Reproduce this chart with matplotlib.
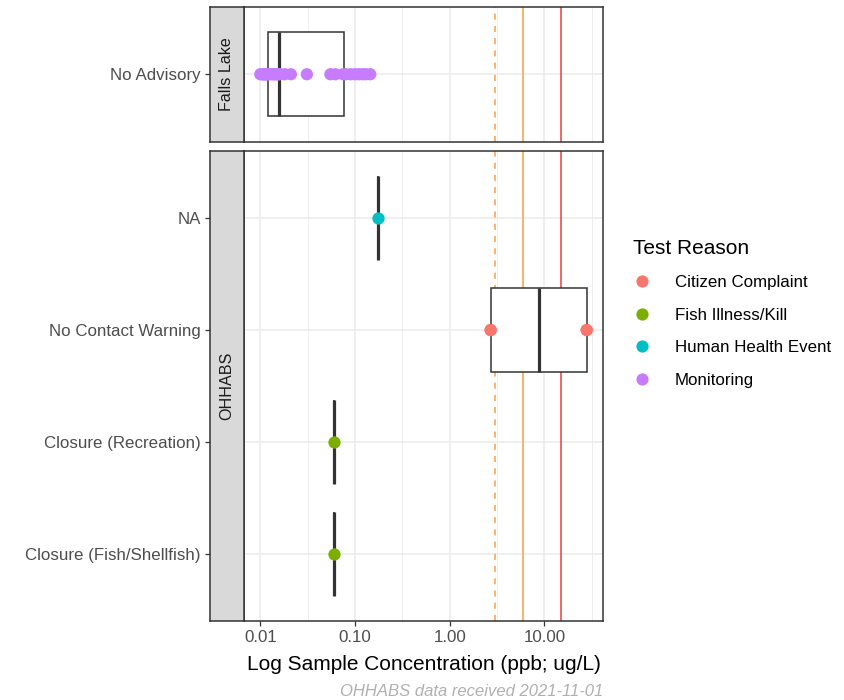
import numpy as np
import matplotlib
matplotlib.use('Agg')
import matplotlib.pyplot as plt
from matplotlib.lines import Line2D

plt.rcParams['font.family'] = ['Liberation Sans', 'DejaVu Sans']

# ---- data ----
reasons = ['Citizen Complaint', 'Fish Illness/Kill', 'Human Health Event', 'Monitoring']
reason_colors = ['#F8766D', '#7CAE00', '#00BFC4', '#C77CFF']

falls_advisory = ['No Advisory']
falls_values = [0.0100, 0.0105, 0.0108, 0.0110, 0.0112, 0.0115, 0.0118, 0.0120,
                0.0130, 0.0135, 0.0140, 0.0145, 0.0150, 0.0155, 0.0160, 0.0180,
                0.0210, 0.0310, 0.0550, 0.0620, 0.0750, 0.0800, 0.0900, 0.1000,
                0.1100, 0.1200, 0.1300, 0.1450]
falls_reason = 'Monitoring'

ohhabs_advisory = ['Closure (Fish/Shellfish)', 'Closure (Recreation)',
                   'No Contact Warning', 'NA']
ohhabs_values = [[0.060], [0.060], [2.71, 2.71, 28.0, 28.0], [0.176]]
ohhabs_reasons = [['Fish Illness/Kill'], ['Fish Illness/Kill'],
                  ['Citizen Complaint'] * 4, ['Human Health Event']]

# guideline lines: (value, colour, style)
guide_values = [3, 6, 15]
guide_colors = ['#F9A047', '#F9A047', '#F03C3C']
guide_styles = ['--', '-', '-']

x_ticks = [0.01, 0.1, 1, 10]
x_ticklabels = ['0.01', '0.10', '1.00', '10.00']
x_minor = [10 ** -1.5, 10 ** -0.5, 10 ** 0.5, 10 ** 1.5]


def log_box_stats(vals):
    # ggplot computes the box on the transformed (log10) scale
    lv = np.log10(np.asarray(vals, dtype=float))
    q1, med, q3 = np.percentile(lv, [25, 50, 75])
    iqr = q3 - q1
    lo = lv[lv >= q1 - 1.5 * iqr].min()
    hi = lv[lv <= q3 + 1.5 * iqr].max()
    return dict(med=10 ** med, q1=10 ** q1, q3=10 ** q3,
                whislo=10 ** lo, whishi=10 ** hi, fliers=[])


# x limits: data range + 5% on the log scale
all_vals = np.log10(np.concatenate([falls_values] + [np.array(v) for v in ohhabs_values]))
span = all_vals.max() - all_vals.min()
xlim = (10 ** (all_vals.min() - 0.05 * span), 10 ** (all_vals.max() + 0.05 * span))

W, H = 845, 700
fig = plt.figure(figsize=(W / 100, H / 100), dpi=100)


def px(x0, y0, x1, y1):
    return [x0 / W, 1 - y1 / H, (x1 - x0) / W, (y1 - y0) / H]


ax_top = fig.add_axes(px(244, 7, 603, 141.5))
ax_bot = fig.add_axes(px(244, 151, 603, 621))
strip_top = fig.add_axes(px(210, 7, 244, 141.5))
strip_bot = fig.add_axes(px(210, 151, 244, 621))

TXT = 12.2

box_kw = dict(widths=0.75, orientation='horizontal', showcaps=False,
              patch_artist=True, manage_ticks=False,
              boxprops=dict(facecolor='white', edgecolor='#333333', linewidth=1.1),
              whiskerprops=dict(color='#333333', linewidth=1.1),
              medianprops=dict(color='#333333', linewidth=2.3))

panels = [
    (ax_top, strip_top, 'Falls Lake', falls_advisory, [falls_values],
     [[falls_reason] * len(falls_values)]),
    (ax_bot, strip_bot, 'OHHABS', ohhabs_advisory, ohhabs_values, ohhabs_reasons),
]

for ax, sax, label, cats, vals, rsn in panels:
    pos = np.arange(1, len(cats) + 1)
    ylim = (0.4, len(cats) + 0.6)
    ax.set_xscale('log')
    ax.set_xlim(*xlim)
    ax.set_ylim(*ylim)

    ax.set_xticks(x_ticks)
    ax.set_xticklabels(x_ticklabels)
    ax.set_xticks(x_minor, minor=True)
    ax.set_xticklabels([], minor=True)
    ax.tick_params(axis='x', which='minor', length=0)
    ax.tick_params(axis='x', which='major', length=3.5, width=0.9,
                   color='#333333', labelcolor='#4D4D4D', labelsize=TXT, pad=3)
    ax.set_yticks(pos)
    ax.tick_params(axis='y', length=0, labelleft=False)

    ax.grid(True, which='major', color='#EBEBEB', linewidth=1.1)
    ax.grid(True, which='minor', axis='x', color='#EBEBEB', linewidth=0.6)
    ax.set_axisbelow(True)
    for s in ax.spines.values():
        s.set_color('#333333')
        s.set_linewidth(1.1)
        s.set_zorder(5)

    for g, c, ls in zip(guide_values, guide_colors, guide_styles):
        ax.axvline(g, color=c, linestyle=ls, linewidth=1.1,
                   dashes=(4, 4) if ls == '--' else (None, None), zorder=1)

    stats = [log_box_stats(v) for v in vals]
    ax.bxp(stats, positions=pos, **box_kw)
    for p, v, r in zip(pos, vals, rsn):
        cols = [reason_colors[reasons.index(k)] for k in r]
        ax.scatter(v, [p] * len(v), s=78, c=cols, linewidths=0, zorder=4)

    # strip on the left carries the category ticks (switched strips)
    sax.set_facecolor('#D9D9D9')
    sax.set_xticks([])
    sax.set_ylim(*ylim)
    sax.set_yticks(pos)
    sax.set_yticklabels(cats)
    sax.tick_params(axis='y', length=3.5, width=0.9, color='#333333',
                    labelcolor='#4D4D4D', labelsize=TXT, pad=3)
    for s in sax.spines.values():
        s.set_color('#333333')
        s.set_linewidth(1.1)
    sax.text(0.5, 0.5, label, rotation=90, ha='center', va='center',
             fontsize=11.6, color='#1A1A1A', transform=sax.transAxes)

ax_top.tick_params(axis='x', labelbottom=False, length=0)

ax_bot.set_xlabel('Log Sample Concentration (ppb; ug/L)', fontsize=15.0,
                  color='black', labelpad=7)

handles = [Line2D([], [], marker='o', linestyle='none', markersize=8.8,
                  markerfacecolor=c, markeredgewidth=0) for c in reason_colors]
leg = fig.legend(handles, reasons, loc='upper left',
                 bbox_to_anchor=(626 / W, 1 - 232 / H), frameon=False,
                 title='Test Reason', title_fontsize=15.0, fontsize=TXT,
                 labelspacing=1.03, handletextpad=1.42, handlelength=1.07,
                 alignment='left', borderaxespad=0)

fig.text(603 / W, 1 - 691 / H, 'OHHABS data received 2021-11-01',
         ha='right', va='center', fontsize=12.0, style='italic', color='#B0B0B0')

fig.savefig('out.png', dpi=100)
